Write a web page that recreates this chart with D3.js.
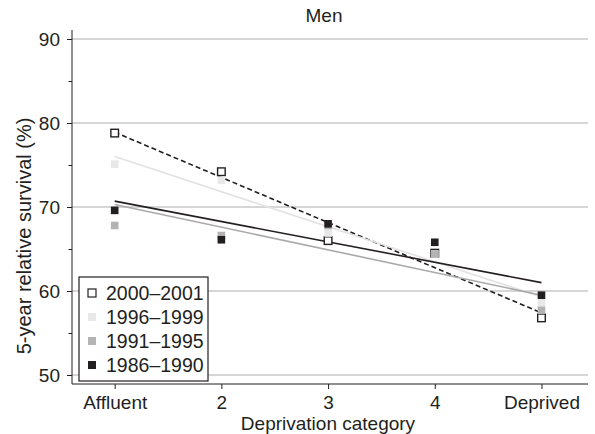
<!DOCTYPE html>
<html>
<head>
<meta charset="utf-8">
<script src="https://cdn.jsdelivr.net/npm/d3@7"></script>
<style>
  body { margin: 0; background: #fff; }
  svg { display: block; font-family: "Liberation Sans", Arial, sans-serif; }
  .axis text { font-size: 19px; fill: #231f20; }
</style>
</head>
<body>
<div id="chart"></div>
<script>
// values
const categories = ["Affluent", "2", "3", "4", "Deprived"];
const periods = ["2000\u20132001", "1996\u20131999", "1991\u20131995", "1986\u20131990"];

const surv2000 = [78.8, 74.2, 66.0, 64.5, 56.8];
const surv1996 = [75.1, 73.2, 66.9, 64.4, 58.6];
const surv1991 = [67.8, 66.6, 67.8, 64.4, 57.7];
const surv1986 = [69.6, 66.1, 68.0, 65.8, 59.5];

// fitted trend line, value at Affluent and at Deprived
const trend2000 = [78.9, 57.4];
const trend1996 = [76.0, 59.3];
const trend1991 = [70.3, 59.5];
const trend1986 = [70.7, 61.0];

const yMajor = [50, 60, 70, 80, 90];
const yMinor = [55, 65, 75, 85];

(function () {
  const W = 595, H = 434;
  const plot = { left: 72, right: 588, top: 30, bottom: 384 };

  const series = [
    { name: periods[0], values: surv2000, trend: trend2000, fill: "#fff", stroke: "#231f20", line: "#231f20", dash: "5,3" },
    { name: periods[1], values: surv1996, trend: trend1996, fill: "#e8e8e8", stroke: "none", line: "#e2e2e2", dash: null },
    { name: periods[2], values: surv1991, trend: trend1991, fill: "#b3b3b3", stroke: "none", line: "#a9a9a9", dash: null },
    { name: periods[3], values: surv1986, trend: trend1986, fill: "#231f20", stroke: "none", line: "#231f20", dash: null }
  ];

  const svg = d3.select("#chart").append("svg")
    .attr("width", W).attr("height", H)
    .attr("viewBox", `0 0 ${W} ${H}`);

  const x = d3.scaleLinear().domain([0.6, 5.4]).range([plot.left, plot.left + 4.8 * 106.7]);
  const y = d3.scaleLinear().domain([50, 90]).range([375, 39]);

  // grid
  svg.append("g").selectAll("line")
    .data(yMajor)
    .join("line")
    .attr("x1", plot.left).attr("x2", plot.right)
    .attr("y1", d => y(d)).attr("y2", d => y(d))
    .attr("stroke", "#c8c8c8").attr("stroke-width", 1.3);

  // trend lines
  series.forEach(s => {
    svg.append("line")
      .attr("x1", x(1)).attr("y1", y(s.trend[0]))
      .attr("x2", x(5)).attr("y2", y(s.trend[1]))
      .attr("stroke", s.line).attr("stroke-width", 1.6)
      .attr("stroke-dasharray", s.dash);
  });

  // markers
  const sz = 7.6;
  series.forEach(s => {
    svg.append("g").selectAll("rect")
      .data(s.values)
      .join("rect")
      .attr("x", (d, i) => x(i + 1) - sz / 2)
      .attr("y", d => y(d) - sz / 2)
      .attr("width", sz).attr("height", sz)
      .attr("fill", s.fill)
      .attr("stroke", s.stroke)
      .attr("stroke-width", 1.4);
  });

  // axes
  const yAxis = svg.append("g")
    .attr("class", "axis")
    .attr("transform", `translate(${plot.left},0)`)
    .call(d3.axisLeft(y).tickValues(yMajor).tickSize(5).tickPadding(7));
  yAxis.select(".domain").remove();
  yAxis.selectAll("line").attr("stroke", "#231f20");

  const yMinorAxis = svg.append("g")
    .attr("transform", `translate(${plot.left},0)`)
    .call(d3.axisLeft(y).tickValues(yMinor).tickSize(3.5).tickFormat(""));
  yMinorAxis.select(".domain").remove();
  yMinorAxis.selectAll("line").attr("stroke", "#231f20");

  const xAxis = svg.append("g")
    .attr("class", "axis")
    .attr("transform", `translate(0,${plot.bottom})`)
    .call(d3.axisBottom(x).tickValues([1, 2, 3, 4, 5]).tickSize(5).tickPadding(7)
      .tickFormat((d, i) => categories[i]));
  xAxis.select(".domain").remove();
  xAxis.selectAll("line").attr("stroke", "#231f20");

  svg.append("line")
    .attr("x1", plot.left).attr("x2", plot.left)
    .attr("y1", plot.top).attr("y2", plot.bottom)
    .attr("stroke", "#231f20").attr("stroke-width", 1);
  svg.append("line")
    .attr("x1", plot.left).attr("x2", plot.right)
    .attr("y1", plot.bottom).attr("y2", plot.bottom)
    .attr("stroke", "#231f20").attr("stroke-width", 1);

  // titles
  svg.append("text")
    .attr("x", 324).attr("y", 22)
    .attr("text-anchor", "middle")
    .attr("font-size", 19).attr("fill", "#231f20")
    .text("Men");

  svg.append("text")
    .attr("transform", "rotate(-90)")
    .attr("x", -236).attr("y", 31)
    .attr("text-anchor", "middle")
    .attr("font-size", 20).attr("fill", "#231f20")
    .text("5-year relative survival (%)");

  svg.append("text")
    .attr("x", 328).attr("y", 429.5)
    .attr("text-anchor", "middle")
    .attr("font-size", 19).attr("fill", "#231f20")
    .text("Deprivation category");

  // legend
  const lg = svg.append("g").attr("transform", "translate(79,277)");
  lg.append("rect")
    .attr("width", 129).attr("height", 104)
    .attr("fill", "#fff").attr("stroke", "#231f20").attr("stroke-width", 1.2);

  const row = lg.selectAll(".row")
    .data(series)
    .join("g")
    .attr("transform", (d, i) => `translate(0,${16 + i * 24})`);
  row.append("rect")
    .attr("x", 9).attr("y", -4)
    .attr("width", 8).attr("height", 8)
    .attr("fill", d => d.fill)
    .attr("stroke", d => d.stroke)
    .attr("stroke-width", 1.2);
  row.append("text")
    .attr("x", 27).attr("y", 7)
    .attr("font-size", 19.5).attr("fill", "#231f20")
    .text(d => d.name);
})();
</script>
</body>
</html>
